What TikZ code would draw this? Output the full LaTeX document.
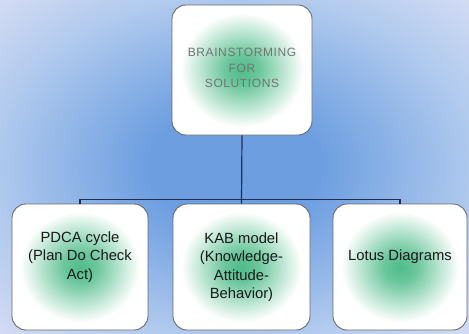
\documentclass[tikz,border=0pt]{standalone}
\usepackage{fontspec}
\setmainfont{Liberation Sans}
\usepackage{xcolor}
\usepackage{tikz}
\usetikzlibrary{positioning,calc}

\definecolor{bgblue}{RGB}{108,158,224}
\definecolor{bgmid}{RGB}{178,203,238}
\definecolor{bgedge}{RGB}{234,230,247}
\definecolor{glowc}{RGB}{80,188,138}
\definecolor{linkc}{RGB}{35,45,80}
\definecolor{boxline}{RGB}{105,105,115}

\pgfdeclareradialshading{bgshade}{\pgfpoint{0bp}{0bp}}{color(0bp)=(bgblue); color(9bp)=(bgblue); color(26bp)=(bgmid); color(42bp)=(bgedge); color(50bp)=(bgedge)}
\pgfdeclareradialshading{glow}{\pgfpoint{0bp}{0bp}}{color(0bp)=(glowc); color(6bp)=(glowc!85!white); color(22bp)=(white); color(50bp)=(white)}

\begin{document}
\begin{tikzpicture}[x=1pt,y=-1pt,
    box/.style={draw=boxline, line width=0.9pt, rounded corners=14pt, shading=glow},
    txt/.style={align=center, text=black!90, font=\fontsize{14.8}{18.5}\selectfont},
    link/.style={draw=linkc, line width=1.2pt}]
    \useasboundingbox (0,0) rectangle (469,333);
    \shade[shading=bgshade] (0,0) rectangle (469,333);

    % boxes
    \node[box, minimum width=140pt, minimum height=130pt] (top) at (242,70) {};
    \node[box, minimum width=136pt, minimum height=126pt] (pdca) at (80,267) {};
    \node[box, minimum width=137pt, minimum height=126pt] (kab) at (241.5,267) {};
    \node[box, minimum width=134pt, minimum height=126pt] (lotus) at (400,267) {};

    \node[align=center, text=black!55, font=\fontsize{12}{15.5}\selectfont\addfontfeatures{LetterSpace=5}] (toptxt) at ([yshift=2pt]top.center) {BRAINSTORMING\\FOR\\SOLUTIONS};
    \node[txt] (pdcatxt) at ([yshift=10pt]pdca.center) {PDCA cycle\\(Plan Do Check\\Act)};
    \node[txt] (kabtxt) at (kab.center) {KAB model\\(Knowledge-\\Attitude-\\Behavior)};
    \node[txt] (lotustxt) at ([yshift=10pt]lotus.center) {Lotus Diagrams};

    \draw[link] (top.south) -- (kab.north);
    \draw[link] (pdca.north) -- ++(0,-4) -| (lotus.north);
\end{tikzpicture}
\end{document}
